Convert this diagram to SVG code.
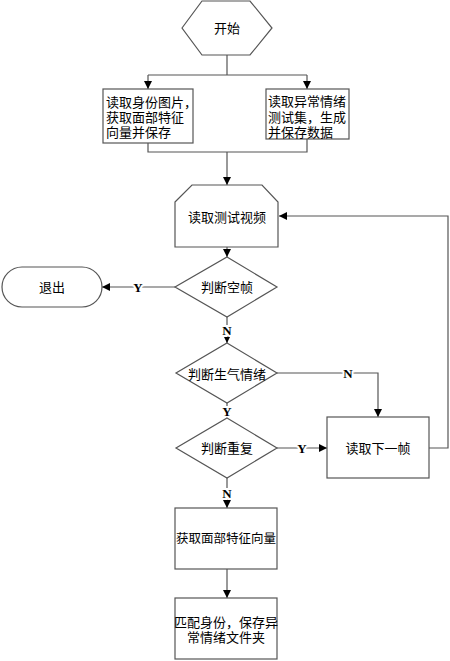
<svg xmlns="http://www.w3.org/2000/svg" width="450" height="661" viewBox="0 0 450 661">
<style>
.s{fill:#fff;stroke:#555;stroke-width:1.2}
.c{fill:none;stroke:#555;stroke-width:1.2}
.t{font-family:"Liberation Serif","Noto Sans CJK SC",serif;font-size:13px;fill:#000;text-anchor:middle;dominant-baseline:central}
.l{font-family:"Liberation Serif",serif;font-size:13px;font-weight:bold;fill:#000;text-anchor:middle;dominant-baseline:central;stroke:#fff;stroke-width:4;paint-order:stroke}
.tl{font-family:"Liberation Serif","Noto Sans CJK SC",serif;font-size:13px;fill:#000;dominant-baseline:central}
</style>
<defs>
<marker id="a" markerUnits="userSpaceOnUse" markerWidth="9" markerHeight="8" refX="8" refY="4" orient="auto">
<path d="M0,0 L8,4 L0,8 z" fill="#000"/>
</marker>
</defs>
<g id="connectors">
<path class="c" d="M227,55 V75 M148,75 H307"/>
<path class="c" d="M148,75 V89" marker-end="url(#a)"/>
<path class="c" d="M307,75 V89" marker-end="url(#a)"/>
<path class="c" d="M148,143 V152 H307 V139"/>
<path class="c" d="M227,152 V185" marker-end="url(#a)"/>
<path class="c" d="M227,247 V257" marker-end="url(#a)"/>
<path class="c" d="M175,287 H102" marker-end="url(#a)"/>
<path class="c" d="M227,317 V343" marker-end="url(#a)"/>
<path class="c" d="M277,373 H378 V417" marker-end="url(#a)"/>
<path class="c" d="M227,403 V418" marker-end="url(#a)"/>
<path class="c" d="M277,448 H327" marker-end="url(#a)"/>
<path class="c" d="M227,478 V508" marker-end="url(#a)"/>
<path class="c" d="M227,569 V598" marker-end="url(#a)"/>
<path class="c" d="M429,448 H448 V216 H279" marker-end="url(#a)"/>
<text class="l" x="138" y="287">Y</text>
<text class="l" x="227" y="330">N</text>
<text class="l" x="348" y="373">N</text>
<text class="l" x="227" y="411">Y</text>
<text class="l" x="302" y="448">Y</text>
<text class="l" x="227" y="493">N</text>
</g>
<g id="start">
<polygon class="s" points="182,28 202,1 250,1 272,28 250,55 202,55"/>
<text class="t" x="227" y="28">开始</text>
</g>
<g id="read-id">
<rect class="s" x="103" y="89" width="90" height="54"/>
<text class="tl" x="106" y="102">读取身份图片，</text>
<text class="tl" x="106" y="117">获取面部特征</text>
<text class="tl" x="106" y="132">向量并保存</text>
</g>
<g id="read-emotion">
<rect class="s" x="266" y="89" width="83" height="50"/>
<text class="tl" x="268" y="101">读取异常情绪</text>
<text class="tl" x="268" y="117">测试集，生成</text>
<text class="tl" x="268" y="132">并保存数据</text>
</g>
<g id="read-video">
<polygon class="s" points="175,202 192,185 262,185 278,202 278,247 175,247"/>
<text class="t" x="227" y="217">读取测试视频</text>
</g>
<g id="empty-frame">
<polygon class="s" points="227,257 277,287 227,317 175,287"/>
<text class="t" x="227" y="287">判断空帧</text>
</g>
<g id="exit">
<rect class="s" x="2" y="267" width="100" height="40" rx="20"/>
<text class="t" x="52" y="287">退出</text>
</g>
<g id="angry">
<polygon class="s" points="227,343 277,373 227,403 176,373"/>
<text class="t" x="227" y="374">判断生气情绪</text>
</g>
<g id="repeat">
<polygon class="s" points="227,418 277,448 227,478 176,448"/>
<text class="t" x="227" y="448">判断重复</text>
</g>
<g id="next-frame">
<rect class="s" x="327" y="417" width="102" height="61"/>
<text class="t" x="378" y="448">读取下一帧</text>
</g>
<g id="face-vector">
<rect class="s" x="175" y="508" width="102" height="61"/>
<text class="t" x="226" y="539" style="font-size:12.5px">获取面部特征向量</text>
</g>
<g id="match">
<rect class="s" x="175" y="598" width="102" height="61"/>
<text class="t" x="226" y="622">匹配身份，保存异</text>
<text class="t" x="226" y="637">常情绪文件夹</text>
</g>
</svg>
